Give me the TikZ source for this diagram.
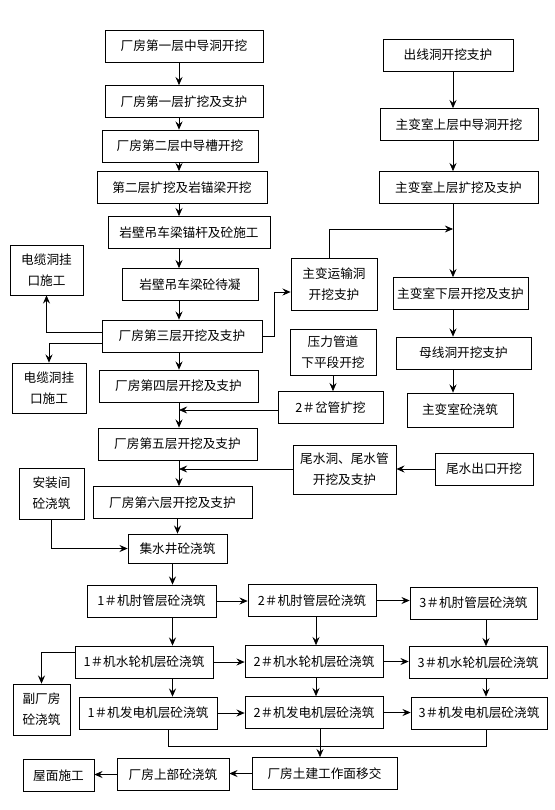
\documentclass[tikz,border=0pt]{standalone}
\usepackage{fontspec}
\newfontfamily\cjk{Noto Sans CJK SC}
\usetikzlibrary{arrows.meta,calc,positioning}

\begin{document}
\begin{tikzpicture}[x=0.03cm,y=-0.03cm,line width=0.6pt,
    >={Stealth[length=7pt,width=6pt,inset=2.5pt]},
    stage/.style={draw,inner sep=0pt,minimum height=0.96cm,align=center,
        font=\cjk\fontsize{10.8}{18}\selectfont}]
    \useasboundingbox (0,0) rectangle (554,810);
    % powerhouse cavern
    \node[stage,minimum width=4.74cm] (cav1) at (184,46) {厂房第一层中导洞开挖};
    \node[stage,minimum width=4.74cm] (cav2) at (184,101.5) {厂房第一层扩挖及支护};
    \node[stage,minimum width=4.68cm] (cav3) at (180,146) {厂房第二层中导槽开挖};
    \node[stage,minimum width=5.1cm] (cav4) at (182,187.5) {第二层扩挖及岩锚梁开挖};
    \node[stage,minimum width=4.86cm] (cav5) at (189,232.5) {岩壁吊车梁锚杆及砼施工};
    \node[stage,minimum width=4.08cm] (cav6) at (190,284.5) {岩壁吊车梁砼待凝};
    \node[stage,minimum width=4.8cm] (cav7) at (182,336) {厂房第三层开挖及支护};
    \node[stage,minimum width=4.77cm] (cav8) at (178.5,386) {厂房第四层开挖及支护};
    \node[stage,minimum width=4.77cm] (cav9) at (177.5,444) {厂房第五层开挖及支护};
    \node[stage,minimum width=4.77cm] (cav10) at (172.5,502.5) {厂房第六层开挖及支护};
    \node[stage,minimum width=2.97cm,minimum height=0.87cm] (sump) at (177.5,548.5) {集水井砼浇筑};
    \node[stage,minimum width=2.19cm,minimum height=1.5cm] (cab1) at (46.5,270) {电缆洞挂\\口施工};
    \node[stage,minimum width=2.22cm,minimum height=1.5cm] (cab2) at (49,388) {电缆洞挂\\口施工};
    \node[stage,minimum width=1.95cm,minimum height=1.53cm] (bay) at (51.5,493.5) {安装间\\砼浇筑};
    % transformer chamber
    \node[stage,minimum width=3.9cm] (out) at (448,55) {出线洞开挖支护};
    \node[stage,minimum width=4.74cm] (tx1) at (459,124.5) {主变室上层中导洞开挖};
    \node[stage,minimum width=4.77cm] (tx2) at (458.5,187.5) {主变室上层扩挖及支护};
    \node[stage,minimum width=4.05cm] (tx3) at (460.5,293.5) {主变室下层开挖及支护};
    \node[stage,minimum width=4.05cm] (bus) at (463.5,353) {母线洞开挖支护};
    \node[stage,minimum width=3.18cm,minimum height=1.02cm] (tx4) at (460,410) {主变室砼浇筑};
    \node[stage,minimum width=2.58cm,minimum height=1.56cm] (road) at (334,284) {主变运输洞\\开挖支护};
    \node[stage,minimum width=2.58cm,minimum height=1.38cm] (pen) at (333,352) {压力管道\\下平段开挖};
    \node[stage,minimum width=3.15cm] (fork) at (330.5,407.5) {2＃岔管扩挖};
    \node[stage,minimum width=3.09cm,minimum height=1.47cm] (tail) at (344.5,469.5) {尾水洞、尾水管\\开挖及支护};
    \node[stage,minimum width=2.94cm] (exit) at (484,469) {尾水出口开挖};
    % units
    \node[stage,minimum width=3.87cm] (elb1) at (151.5,601) {1＃机肘管层砼浇筑};
    \node[stage,minimum width=3.84cm] (elb2) at (312,600.5) {2＃机肘管层砼浇筑};
    \node[stage,minimum width=3.81cm] (elb3) at (473.5,603) {3＃机肘管层砼浇筑};
    \node[stage,minimum width=4.14cm] (tur1) at (144,662) {1＃机水轮机层砼浇筑};
    \node[stage,minimum width=4.14cm] (tur2) at (314,661.5) {2＃机水轮机层砼浇筑};
    \node[stage,minimum width=4.14cm] (tur3) at (478,662.5) {3＃机水轮机层砼浇筑};
    \node[stage,minimum width=4.14cm] (gen1) at (148,713) {1＃机发电机层砼浇筑};
    \node[stage,minimum width=4.14cm] (gen2) at (314,712.5) {2＃机发电机层砼浇筑};
    \node[stage,minimum width=4.08cm] (gen3) at (479,713) {3＃机发电机层砼浇筑};
    \node[stage,minimum width=1.71cm,minimum height=1.53cm] (aux) at (41.5,709.5) {副厂房\\砼浇筑};
    \node[stage,minimum width=4.35cm] (hand) at (324.5,773.5) {厂房土建工作面移交};
    \node[stage,minimum width=3.36cm] (upper) at (173,774.5) {厂房上部砼浇筑};
    \node[stage,minimum width=2.13cm] (roof) at (58.5,775.5) {屋面施工};

    \coordinate (mx) at (179,0);
    \coordinate (bx) at (172.5,0);
    \coordinate (rx) at (453,0);
    \coordinate (cx) at (316,0);
    \coordinate (dx) at (486,0);
    \coordinate (forkin) at (179,410);
    \coordinate (tailin) at (179,469);
    \coordinate (roadin) at (453,229);
    \coordinate (mrg) at (320,746);

    \draw[->] (cav1.south -| mx) -- (cav2.north -| mx);
    \draw[->] (cav2.south -| mx) -- (cav3.north -| mx);
    \draw[->] (cav3.south -| mx) -- (cav4.north -| mx);
    \draw[->] (cav4.south -| mx) -- (cav5.north -| mx);
    \draw[->] (cav5.south -| mx) -- (cav6.north -| mx);
    \draw[->] (cav6.south -| mx) -- (cav7.north -| mx);
    \draw[->] (cav7.south -| mx) -- (cav8.north -| mx);
    \draw[->] (cav8.south -| mx) -- (cav9.north -| mx);
    \draw[->] (cav9.south -| mx) -- (cav10.north -| mx);
    \draw[->] (cav10.south -| sump.north) -- (sump.north);
    \draw[->] ($(cav7.west)+(0,-4)$) -| (cab1.south);
    \draw[->] ($(cav7.west)+(0,7)$) -| (cab2.north);
    \draw[->] (cav7.east) -- ++(12,0) |- ($(road.west)+(0,8)$);
    \draw[->] (bay.south) |- (sump.west);

    \draw[->] (out.south -| rx) -- (tx1.north -| rx);
    \draw[->] (tx1.south -| rx) -- (tx2.north -| rx);
    \draw[->] (tx2.south -| rx) -- (tx3.north -| rx);
    \draw[->] (tx3.south -| rx) -- (bus.north -| rx);
    \draw[->] (bus.south -| rx) -- (tx4.north -| rx);
    \draw[->] ($(road.north)+(-5,0)$) |- (roadin);
    \draw[->] (pen.south) -- (pen.south |- fork.north);
    \draw[->] (fork.west |- forkin) -- (forkin);
    \draw[->] (exit.west) -- (tail.east |- exit.west);
    \draw[->] (tail.west |- tailin) -- (tailin);

    \draw[->] (sump.south -| bx) -- (elb1.north -| bx);
    \draw[->] (elb1.south -| bx) -- (tur1.north -| bx);
    \draw[->] (tur1.south -| bx) -- (gen1.north -| bx);
    \draw[->] (elb2.south -| cx) -- (tur2.north -| cx);
    \draw[->] (tur2.south -| cx) -- (gen2.north -| cx);
    \draw[->] (elb3.south -| dx) -- (tur3.north -| dx);
    \draw[->] (tur3.south -| dx) -- (gen3.north -| dx);
    \draw[->] (elb1.east) -- (elb1.east -| elb2.west);
    \draw[->] (elb2.east) -- (elb2.east -| elb3.west);
    \draw[->] (tur1.east) -- (tur1.east -| tur2.west);
    \draw[->] (tur2.east) -- (tur2.east -| tur3.west);
    \draw[->] (gen1.east) -- (gen1.east -| gen2.west);
    \draw[->] (gen2.east) -- (gen2.east -| gen3.west);
    \draw[->] ($(tur1.west)+(0,-10)$) -| (aux.north);
    \draw ($(gen1.south)+(20,0)$) |- (mrg);
    \draw (gen3.south -| dx) |- (mrg);
    \draw[->] (gen2.south -| mrg) -- (hand.north -| mrg);
    \draw[->] (hand.west) -- (hand.west -| upper.east);
    \draw[->] (upper.west) -- (upper.west -| roof.east);
\end{tikzpicture}
\end{document}
